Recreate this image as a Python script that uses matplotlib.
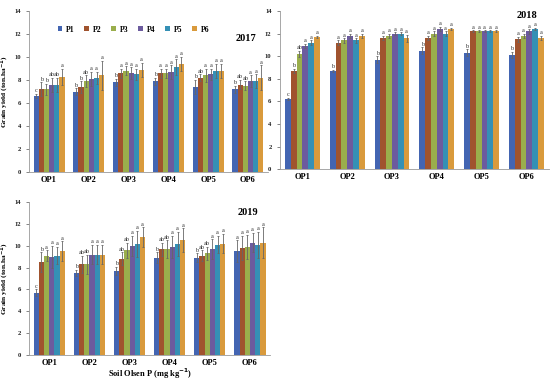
import numpy as np
import matplotlib.pyplot as plt

groups = ["OP1", "OP2", "OP3", "OP4", "OP5", "OP6"]
series = ["P1", "P2", "P3", "P4", "P5", "P6"]
colors = ["#4365B2", "#A0532E", "#9AAE4C", "#6C5B9E", "#3590B5", "#D99A3C"]

# rows = OP groups, columns = P1..P6
y2017 = [[6.6, 7.2, 7.2, 7.6, 7.6, 8.3],
         [7.0, 7.4, 7.9, 8.1, 8.2, 8.4],
         [7.8, 8.6, 8.8, 8.6, 8.5, 8.9],
         [7.9, 8.6, 8.6, 8.7, 9.1, 9.4],
         [7.4, 8.2, 8.4, 8.5, 8.8, 8.8],
         [7.2, 7.6, 7.5, 7.9, 7.9, 8.2]]
e2017 = [[0.2, 0.6, 0.5, 0.6, 0.6, 0.7],
         [0.3, 0.5, 0.5, 0.6, 0.5, 1.3],
         [0.3, 0.4, 0.4, 0.5, 0.5, 0.6],
         [0.3, 0.4, 0.4, 0.6, 0.7, 0.6],
         [0.6, 0.3, 0.6, 0.5, 0.6, 0.6],
         [0.3, 0.4, 0.4, 0.5, 0.6, 1.1]]
l2017 = [["c", "b", "b", "ab", "ab", "a"],
         ["b", "b", "ab", "a", "a", "a"],
         ["b", "a", "a", "a", "a", "a"],
         ["b", "a", "a", "a", "a", "a"],
         ["b", "ab", "a", "a", "a", "a"],
         ["b", "ab", "ab", "a", "a", "a"]]

y2018 = [[6.2, 8.7, 10.2, 10.9, 11.2, 11.7],
         [8.7, 11.2, 11.4, 11.8, 11.4, 11.8],
         [9.7, 11.6, 11.8, 12.0, 12.0, 11.6],
         [10.5, 11.6, 12.0, 12.4, 12.0, 12.4],
         [10.3, 12.2, 12.2, 12.2, 12.2, 12.2],
         [10.1, 11.5, 11.8, 12.2, 12.4, 11.6]]
e2018 = [[0.1, 0.2, 0.3, 0.2, 0.2, 0.1],
         [0.1, 0.2, 0.2, 0.2, 0.2, 0.2],
         [0.3, 0.2, 0.2, 0.1, 0.1, 0.3],
         [0.3, 0.2, 0.2, 0.2, 0.2, 0.1],
         [0.3, 0.1, 0.1, 0.1, 0.1, 0.1],
         [0.3, 0.2, 0.2, 0.2, 0.1, 0.2]]
l2018 = [["c", "b", "ab", "a", "a", "a"]] + [["b", "a", "a", "a", "a", "a"]] * 5

y2019 = [[5.7, 8.5, 9.1, 9.0, 9.1, 9.5],
         [7.5, 8.3, 8.3, 9.2, 9.2, 9.2],
         [7.7, 8.8, 9.6, 10.0, 10.2, 10.8],
         [8.9, 9.7, 9.7, 9.9, 10.2, 10.5],
         [8.9, 9.1, 9.3, 9.7, 10.1, 10.2],
         [9.5, 9.8, 9.9, 10.3, 10.1, 10.3]]
e2019 = [[0.3, 0.9, 0.5, 1.0, 0.8, 0.9],
         [0.3, 0.8, 0.9, 0.9, 0.9, 0.9],
         [0.4, 0.6, 0.7, 0.9, 1.2, 0.9],
         [0.5, 0.6, 0.8, 1.0, 1.1, 1.1],
         [0.4, 0.5, 0.6, 0.9, 0.8, 0.9],
         [1.0, 1.1, 1.1, 0.9, 1.2, 1.4]]
l2019 = [["c", "b", "a", "a", "a", "a"],
         ["b", "ab", "ab", "a", "a", "a"],
         ["b", "ab", "ab", "a", "a", "a"],
         ["b", "ab", "ab", "a", "a", "a"],
         ["b", "ab", "ab", "a", "a", "a"],
         ["a", "a", "a", "a", "a", "a"]]

plt.rcParams['font.family'] = ['Liberation Serif', 'DejaVu Serif']
plt.rcParams['font.weight'] = 'bold'

fig = plt.figure(figsize=(5.5, 3.8), dpi=100)
ax1 = fig.add_axes([0.053, 0.547, 0.434, 0.424])
ax2 = fig.add_axes([0.509, 0.555, 0.489, 0.416])
ax3 = fig.add_axes([0.053, 0.066, 0.438, 0.402])

width = 0.13
x = np.arange(len(groups))


def draw(ax, vals, errs, letters, year, ypos, ylabel=True):
    vals = np.array(vals)
    errs = np.array(errs)
    for j in range(len(series)):
        xs = x + (j - 2.5) * width
        ax.bar(xs, vals[:, j], width, color=colors[j], label=series[j],
               yerr=errs[:, j], error_kw=dict(ecolor="#666666", elinewidth=0.6,
                                               capsize=0.8, capthick=0.6))
        for i in range(len(groups)):
            ax.text(xs[i], vals[i, j] + errs[i, j] + 0.05, letters[i][j],
                    ha="center", va="bottom", fontsize=4.5, color="#333333",
                    fontweight="normal")
    ax.set_ylim(0, 14)
    ax.set_yticks(range(0, 15, 2))
    ax.set_xlim(-0.5, 5.5)
    ax.set_xticks(x)
    ax.set_xticklabels(groups, fontsize=6, fontweight="bold")
    ax.tick_params(axis="x", length=0, pad=3)
    ax.tick_params(axis="y", labelsize=4.8, length=2, width=0.5, colors="#555555",
                   labelcolor="#222222", pad=4)
    for s in ["top", "right"]:
        ax.spines[s].set_visible(False)
    for s in ["left", "bottom"]:
        ax.spines[s].set_color("#999999")
        ax.spines[s].set_linewidth(0.6)
    if ylabel:
        ax.set_ylabel("Grain yield (ton.ha$^{-1}$)", fontsize=5.3, fontweight="bold",
                      labelpad=2)
    ax.text(ypos[0], ypos[1], year, transform=ax.transAxes, fontsize=7.5,
            fontweight="bold", ha="center", va="center")


draw(ax1, y2017, e2017, l2017, "2017", (0.91, 0.83))
draw(ax2, y2018, e2018, l2018, "2018", (0.92, 0.97), ylabel=False)
draw(ax3, y2019, e2019, l2019, "2019", (0.91, 0.93))

ax1.legend(loc="center left", bbox_to_anchor=(0.09, 0.885), ncol=6, frameon=False,
           fontsize=5.5, handlelength=0.6, handleheight=0.6, columnspacing=1.3,
           handletextpad=0.5)
ax3.set_xlabel("Soil Olsen P (mg kg$^{-1}$)", fontsize=6, fontweight="bold",
               labelpad=0)

fig.savefig("out.png", dpi=100)
